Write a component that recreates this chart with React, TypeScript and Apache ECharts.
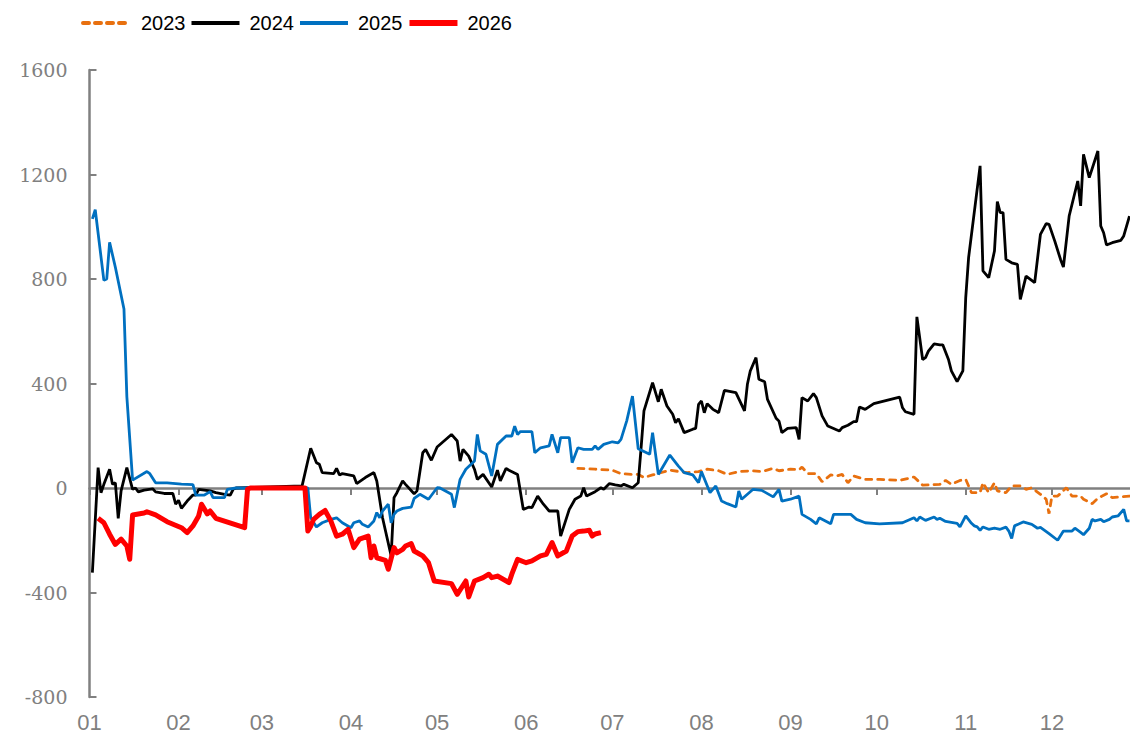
import React, { useEffect, useRef } from "react";
import * as echarts from "echarts";

// Calendar (leap-year day index 0..365)
const monthLengths = [31, 29, 31, 30, 31, 30, 31, 31, 30, 31, 30, 31];
const monthLabels = ["01", "02", "03", "04", "05", "06", "07", "08", "09", "10", "11", "12"];
const monthStarts = [0, 31, 60, 91, 121, 152, 182, 213, 244, 274, 305, 335];
const days: string[] = [];
monthLengths.forEach((len, m) => {
  for (let d = 1; d <= len; d++) days.push(`${monthLabels[m]}-${String(d).padStart(2, "0")}`);
});

// [day index, value]
const s2023: [number, number][] = [
  [170, 75], [176, 72], [182, 68], [185, 55], [189, 52], [191, 52], [193, 40], [196, 50], [202, 68], [208, 59],
  [212, 63], [215, 72], [219, 66], [222, 52], [226, 63], [231, 66], [234, 63], [238, 75], [240, 66], [244, 72],
  [247, 70], [248, 80], [250, 55], [253, 55], [255, 24], [258, 50], [260, 46], [262, 52], [264, 20], [266, 46],
  [270, 33], [275, 33], [282, 29], [287, 42], [290, 11], [296, 14], [298, 29], [300, 14], [303, 29], [305, 33],
  [307, -18], [310, -18], [311, 20], [313, -18], [315, 20], [316, -11], [319, -18], [321, 8], [324, 8], [326, -5],
  [328, 1], [331, -24], [333, -43], [334, -98], [335, -31], [337, -31], [340, 1], [342, -31], [345, -31], [346, -43],
  [349, -60], [351, -39], [354, -22], [356, -37], [359, -34], [362, -31],
];

const s2024: [number, number][] = [
  [1, -324], [3, 78], [4, -18], [5, 14], [7, 72], [8, 14], [9, 20], [10, -116], [11, -11], [13, 78],
  [15, -5], [16, 0], [17, -15], [19, -8], [22, -3], [23, -15], [26, -21], [29, -21], [30, -62], [31, -47],
  [32, -78], [34, -50], [36, -27], [37, -27], [38, -5], [42, -11], [44, -18], [47, -24], [49, -27], [50, -5],
  [51, 0], [74, 8], [77, 152], [79, 97], [80, 91], [81, 59], [85, 55], [86, 75], [87, 50], [88, 55],
  [92, 46], [93, 17], [96, 40], [99, 59], [100, 27], [102, -114], [105, -260], [106, -37], [107, -18], [109, 27],
  [110, 14], [113, -22], [114, -11], [116, 135], [117, 148], [119, 106], [121, 157], [126, 205], [128, 180], [129, 103],
  [130, 148], [132, 122], [134, 72], [135, 33], [137, 52], [140, 4], [142, 68], [143, 27], [145, 75], [146, 68],
  [149, 52], [151, -82], [153, -73], [154, -75], [156, -31], [158, -62], [160, -88], [163, -88], [164, -184], [167, -82],
  [169, -43], [171, -31], [172, 1], [173, -31], [176, -14], [178, 1], [179, -5], [181, 17], [183, 12], [185, 8],
  [186, 14], [189, 1], [191, 20], [192, 154], [193, 295], [196, 403], [198, 330], [199, 378], [201, 314], [203, 282],
  [204, 250], [205, 265], [207, 212], [210, 225], [211, 228], [212, 320], [213, 333], [214, 288], [215, 323], [217, 301],
  [218, 295], [219, 288], [221, 374], [225, 365], [228, 295], [229, 397], [230, 448], [232, 499], [233, 416], [235, 407],
  [236, 339], [239, 267], [240, 256], [241, 212], [243, 228], [246, 231], [247, 186], [248, 346], [250, 333], [252, 361],
  [253, 346], [255, 276], [257, 237], [261, 218], [262, 231], [264, 240], [266, 254], [267, 254], [268, 310], [270, 301],
  [273, 323], [282, 348], [283, 307], [284, 292], [287, 282], [288, 655], [290, 492], [291, 499], [292, 524], [294, 552],
  [296, 548], [297, 548], [299, 492], [300, 448], [302, 407], [304, 448], [305, 729], [306, 882], [310, 1233], [311, 831],
  [313, 805], [315, 907], [316, 1096], [317, 1054], [318, 1054], [319, 875], [321, 862], [323, 856], [324, 722], [326, 811],
  [329, 786], [331, 971], [333, 1012], [334, 1009], [336, 945], [338, 875], [339, 846], [341, 1041], [344, 1175], [345, 1080],
  [346, 1277], [348, 1188], [351, 1290], [352, 1003], [353, 977], [354, 930], [356, 939], [359, 948], [360, 965], [362, 1041],
];

const s2025: [number, number][] = [
  [1, 1030], [2, 1065], [5, 795], [6, 800], [7, 940], [9, 845], [12, 685], [13, 350], [15, 30], [20, 63],
  [21, 55], [23, 20], [27, 20], [32, 15], [36, 13], [37, -27], [40, -27], [42, -14], [43, -37], [47, -37],
  [48, -5], [51, 0], [76, 0], [77, -114], [79, -149], [81, -133], [84, -120], [86, -114], [88, -133], [91, -152],
  [92, -133], [94, -126], [95, -139], [97, -149], [99, -126], [100, -94], [101, -114], [102, -88], [104, -62], [105, -133],
  [106, -101], [107, -88], [109, -78], [112, -73], [113, -40], [115, -24], [118, -43], [121, 1], [122, 0], [126, -24],
  [127, -75], [129, 33], [131, 72], [134, 103], [135, 205], [136, 142], [138, 129], [140, 46], [142, 167], [145, 199],
  [147, 199], [148, 237], [149, 205], [150, 216], [154, 216], [155, 135], [157, 154], [160, 161], [161, 205], [163, 135],
  [164, 193], [167, 193], [168, 97], [170, 154], [172, 148], [175, 148], [176, 161], [177, 148], [179, 167], [182, 177],
  [184, 173], [185, 186], [187, 257], [189, 352], [191, 150], [195, 129], [196, 212], [198, 52], [202, 126], [205, 84],
  [207, 59], [210, 50], [212, 20], [213, 63], [216, -18], [218, 8], [220, -50], [222, -60], [225, -73], [226, -11],
  [227, -43], [231, -5], [234, -9], [238, -34], [240, -5], [241, -50], [244, -43], [247, -31], [248, -101], [251, -120],
  [253, -137], [254, -114], [258, -137], [259, -101], [265, -101], [267, -120], [270, -133], [275, -137], [283, -133], [287, -114],
  [288, -126], [289, -111], [291, -124], [294, -111], [295, -120], [296, -116], [298, -128], [302, -135], [303, -149], [305, -107],
  [307, -135], [308, -145], [309, -149], [310, -162], [311, -149], [313, -158], [315, -154], [317, -158], [319, -150], [320, -165],
  [321, -193], [322, -145], [325, -130], [328, -139], [330, -154], [331, -151], [334, -175], [337, -200], [339, -165], [342, -165],
  [343, -154], [345, -170], [346, -179], [348, -154], [349, -120], [350, -126], [352, -120], [353, -129], [355, -120], [356, -111],
  [358, -107], [360, -82], [361, -126], [362, -126],
];

const s2026: [number, number][] = [
  [3, -116], [5, -133], [7, -177], [9, -216], [11, -196], [13, -222], [14, -273], [15, -103], [19, -96], [20, -91],
  [23, -103], [27, -129], [32, -152], [34, -171], [36, -145], [38, -107], [39, -62], [41, -99], [42, -88], [44, -116],
  [54, -152], [55, -5], [56, 0], [75, 0], [76, -165], [77, -146], [78, -120], [80, -101], [82, -86], [84, -126],
  [86, -184], [88, -177], [90, -158], [92, -228], [94, -196], [97, -184], [98, -267], [99, -222], [100, -267], [103, -277],
  [104, -311], [106, -228], [107, -248], [109, -235], [110, -222], [112, -213], [113, -241], [116, -260], [118, -286], [120, -356],
  [126, -366], [128, -407], [131, -356], [132, -417], [134, -356], [137, -343], [139, -330], [140, -343], [142, -337], [146, -362],
  [147, -330], [149, -273], [152, -286], [154, -279], [157, -260], [159, -254], [161, -209], [163, -260], [166, -241], [168, -184],
  [170, -167], [172, -165], [174, -162], [175, -184], [176, -176], [178, -171],
];

const yTicks = { min: -800, max: 1600, interval: 400 };

const SANS = "'Liberation Sans', Arial, sans-serif";
const GRAY = "#808080";

export default function App() {
  const ref = useRef<HTMLDivElement>(null);
  useEffect(() => {
    if (!ref.current) return;
    const chart = echarts.init(ref.current, undefined, { renderer: "svg" });
    const isMonthStart = (idx: number) => monthStarts.indexOf(idx) >= 0;
    chart.setOption({
      animation: false,
      backgroundColor: "#ffffff",
      legend: {
        left: 76,
        top: 8,
        itemWidth: 48,
        itemHeight: 14,
        itemGap: 4,
        itemStyle: { opacity: 0 },
        textStyle: { fontFamily: SANS, fontSize: 20, color: "#000", padding: [0, 0, 0, 5] },
        data: [
          { name: "2023", lineStyle: { width: 4 } },
          { name: "2024", lineStyle: { width: 4 } },
          { name: "2025", lineStyle: { width: 4 } },
          { name: "2026", lineStyle: { width: 6 } },
        ],
      },
      grid: { left: 89.5, width: 1048.6, top: 70, bottom: 39, containLabel: false },
      xAxis: [
        {
          type: "category",
          data: days,
          boundaryGap: false,
          position: "bottom",
          axisLine: { show: false, onZero: false },
          axisTick: { show: false },
          axisLabel: {
            interval: (idx: number) => isMonthStart(idx),
            formatter: (v: string) => v.slice(0, 2),
            fontFamily: SANS,
            fontSize: 22,
            color: GRAY,
            margin: 14,
          },
          splitLine: { show: false },
        },
        {
          type: "category",
          data: days,
          boundaryGap: false,
          axisLine: { show: true, onZero: true, lineStyle: { color: GRAY, width: 2.5 } },
          axisTick: {
            show: true,
            inside: true,
            length: 7,
            interval: (idx: number) => isMonthStart(idx),
            lineStyle: { color: GRAY, width: 2 },
          },
          axisLabel: { show: false },
          splitLine: { show: false },
        },
      ],
      yAxis: {
        type: "value",
        min: yTicks.min,
        max: yTicks.max,
        interval: yTicks.interval,
        axisLine: { show: true, lineStyle: { color: GRAY, width: 2.5 } },
        axisTick: { show: true, inside: true, length: 7, lineStyle: { color: GRAY, width: 2 } },
        axisLabel: {
          fontFamily: "'DejaVu Serif', serif",
          fontSize: 19,
          color: GRAY,
          margin: 22,
          formatter: (v: number) => String(v),
        },
        splitLine: { show: false },
      },
      series: [
        {
          name: "2023",
          type: "line",
          symbol: "none",
          data: s2023,
          lineStyle: { color: "#E8700F", width: 2.8, type: [6, 6], cap: "round" },
          itemStyle: { color: "#E8700F" },
        },
        {
          name: "2024",
          type: "line",
          symbol: "none",
          data: s2024,
          lineStyle: { color: "#000000", width: 2.8 },
          itemStyle: { color: "#000000" },
        },
        {
          name: "2025",
          type: "line",
          symbol: "none",
          data: s2025,
          lineStyle: { color: "#0070C0", width: 2.8 },
          itemStyle: { color: "#0070C0" },
        },
        {
          name: "2026",
          type: "line",
          symbol: "none",
          data: s2026,
          lineStyle: { color: "#FF0000", width: 5, join: "round" },
          itemStyle: { color: "#FF0000" },
        },
      ],
    });
    return () => chart.dispose();
  }, []);
  return (
    <div
      style={{ position: "absolute", left: 0, top: 0, width: 1130, height: 736, overflow: "hidden" }}
    >
      <div ref={ref} style={{ width: 1140, height: 736 }} />
    </div>
  );
}
